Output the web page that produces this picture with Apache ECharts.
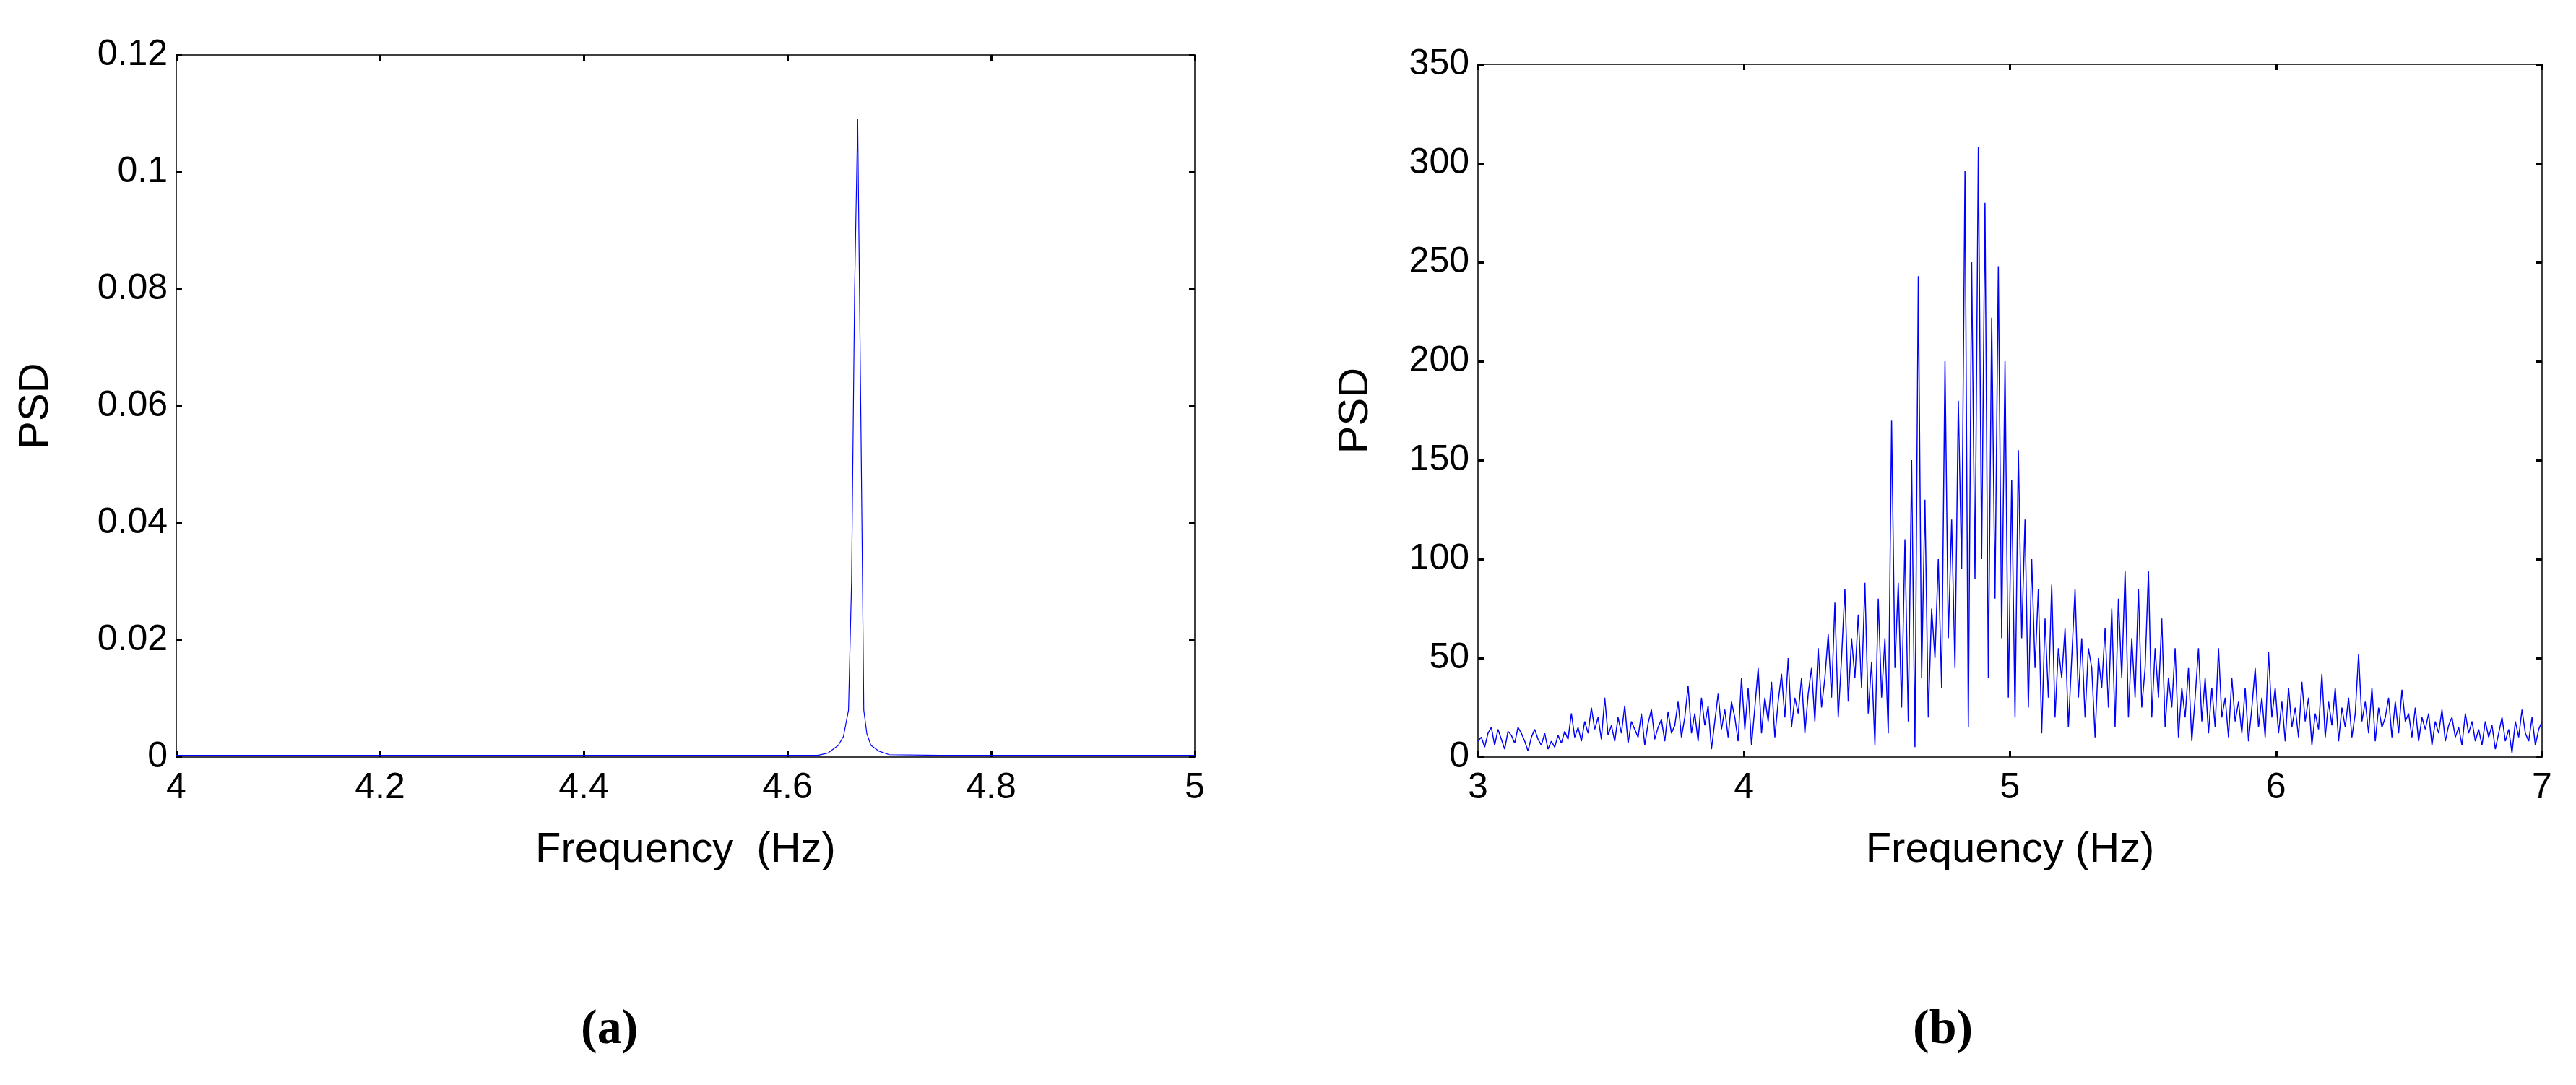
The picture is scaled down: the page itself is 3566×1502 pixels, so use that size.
<!DOCTYPE html>
<html><head><meta charset="utf-8">
<script src="https://cdn.jsdelivr.net/npm/echarts@6/dist/echarts.min.js"></script>
<style>html,body{margin:0;padding:0;background:#fff}#c{width:3566px;height:1502px}</style>
</head><body><div id="c"></div>
<script>
const freqA = [4.0,4.3,4.6,4.63,4.64,4.65,4.655,4.66,4.663,4.666,4.669,4.672,4.675,4.678,4.682,4.69,4.70,4.75,5.0];
const psdA  = [0.0003,0.0003,0.0003,0.0003,0.0007,0.002,0.0035,0.008,0.03,0.08,0.109,0.06,0.008,0.004,0.002,0.001,0.0004,0.0003,0.0003];
const xTicksA = [4,4.2,4.4,4.6,4.8,5];
const yTicksA = [0,0.02,0.04,0.06,0.08,0.1,0.12];
const psdB = [
8,10,5,12,15,6,14,9,4,13,11,7,15,12,8,3,10,14,9,6,
12,4,8,5,11,7,13,9,22,10,15,8,18,12,25,14,20,9,30,11,
16,8,20,12,26,7,18,14,10,22,6,17,24,9,15,19,8,23,12,16,
28,10,20,36,12,22,8,30,16,26,4,18,32,14,24,10,28,20,8,40,
14,35,6,25,45,12,30,18,38,10,28,42,20,50,15,30,22,40,12,32,
45,18,55,25,40,62,30,78,20,50,85,28,60,40,72,35,88,22,48,6,
80,30,60,12,170,45,88,25,110,18,150,5,243,40,130,20,75,50,100,35,
200,60,120,45,180,95,296,15,250,90,308,100,280,40,222,80,248,60,200,30,
140,20,155,60,120,25,100,45,85,12,70,30,87,20,55,40,65,15,50,85,
30,60,20,55,45,10,50,35,65,25,75,15,80,40,94,20,60,30,85,25,
45,94,20,55,30,70,15,40,25,55,10,35,20,45,8,30,55,18,40,12,
35,15,55,20,30,10,40,18,28,12,35,8,25,45,15,30,10,53,20,35,
12,28,8,35,15,25,10,38,18,30,6,22,14,42,10,28,16,35,8,25,
15,30,10,22,52,18,28,12,35,8,25,15,20,30,10,28,12,34,18,22,
10,25,8,20,14,22,6,18,12,24,8,16,20,10,15,6,22,12,18,8,
14,6,18,10,16,4,12,20,8,14,2,18,10,24,12,8,20,6,14,18];
const freqB = psdB.map((_, i) => 3 + i * 4 / (psdB.length - 1));

const font = 'Liberation Sans, Arial, sans-serif';
const ch = echarts.init(document.getElementById('c'));
function xAx(gi, min, max, iv, name, show) {
  return {type:'value', gridIndex:gi, min, max, interval:iv, position: show?'bottom':'top',
    name: show?name:'', nameLocation:'middle', nameGap:100,
    nameTextStyle:{fontFamily:font,fontSize:58,color:'#000'},
    axisLine:{show:true,onZero:false,lineStyle:{color:'#000',width:1.5}},
    axisTick:{show:true,inside:true,length:8,lineStyle:{color:'#000',width:3}},
    axisLabel:{show:show,fontFamily:font,fontSize:50,color:'#000',margin:18},
    splitLine:{show:false}};
}
function yAx(gi, max, iv, show, fmt) {
  return {type:'value', gridIndex:gi, min:0, max, interval:iv, position: show?'left':'right',
    name: show?'PSD':'', nameLocation:'middle', nameGap: gi===0?165:140,
    nameTextStyle:{fontFamily:font,fontSize:58,color:'#000'},
    axisLine:{show:true,onZero:false,lineStyle:{color:'#000',width:1.5}},
    axisTick:{show:true,inside:true,length:8,lineStyle:{color:'#000',width:3}},
    axisLabel:{show:show,fontFamily:font,fontSize:50,color:'#000',margin:12,formatter:fmt},
    splitLine:{show:false}};
}
ch.setOption({
  animation:false,
  backgroundColor:'#fff',
  grid:[{left:244,top:76,width:1410,height:972},{left:2046,top:89,width:1473,height:959}],
  xAxis:[xAx(0,4,5,0.2,'Frequency  (Hz)',true), xAx(0,4,5,0.2,'',false),
         xAx(1,3,7,1,'Frequency (Hz)',true), xAx(1,3,7,1,'',false)],
  yAxis:[yAx(0,0.12,0.02,true,v=>String(+v.toFixed(2))), yAx(0,0.12,0.02,false),
         yAx(1,350,50,true), yAx(1,350,50,false)],
  graphic:[
    {type:'text',left:842-38,top:1392,style:{text:'(a)',font:'bold 68px "Liberation Serif", serif',fill:'#000'}},
    {type:'text',left:2686-38,top:1392,style:{text:'(b)',font:'bold 68px "Liberation Serif", serif',fill:'#000'}}
  ],
  series:[
    {type:'line',xAxisIndex:0,yAxisIndex:0,data:freqA.map((f,i)=>[f,psdA[i]]),showSymbol:false,lineStyle:{color:'#0000ff',width:1.2}},
    {type:'line',xAxisIndex:2,yAxisIndex:2,data:freqB.map((f,i)=>[f,psdB[i]]),showSymbol:false,lineStyle:{color:'#0000ff',width:1.5}}
  ]
});
</script></body></html>
